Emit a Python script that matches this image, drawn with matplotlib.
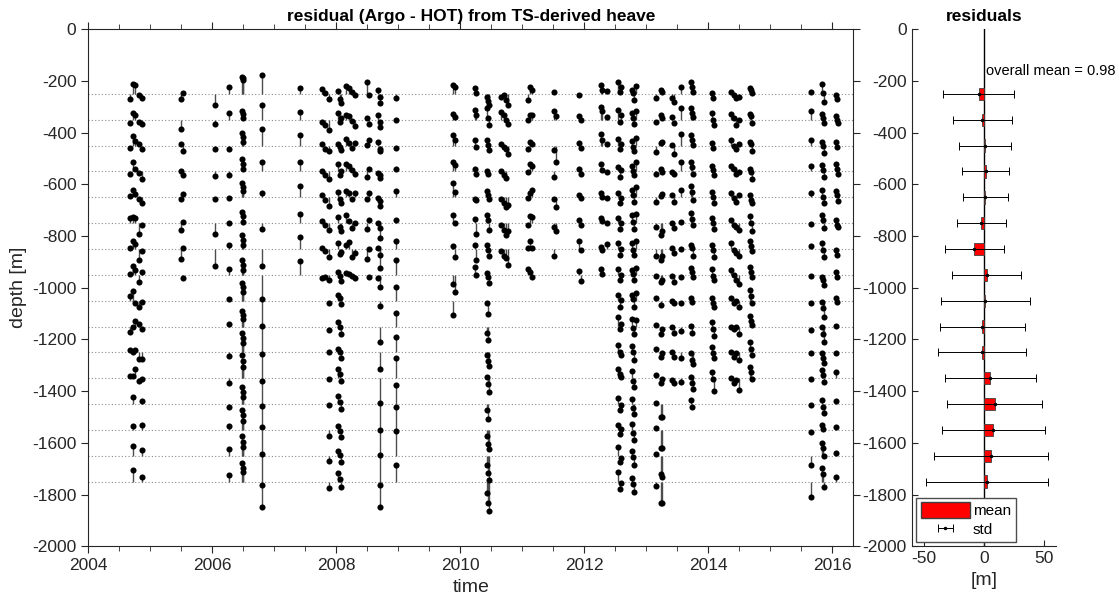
import numpy as np
import matplotlib.pyplot as plt
from matplotlib.patches import Patch
from matplotlib.ticker import MultipleLocator

plt.rcParams['font.family'] = ['Liberation Sans', 'DejaVu Sans']
plt.rcParams['axes.unicode_minus'] = False

N = np.nan

# standard depth levels [m]
levels = [-250, -350, -450, -550, -650, -750, -850, -950,
          -1050, -1150, -1250, -1350, -1450, -1550, -1650, -1750]

# profile times (decimal year) and residuals [m] per level, top down
prof_time = [
    2004.68, 2004.72, 2004.76, 2004.81, 2004.86,
    2005.49, 2005.52,
    2006.04, 2006.27, 2006.48, 2006.49, 2006.50, 2006.80,
    2007.41,
    2007.77, 2007.82, 2007.88, 2008.03, 2008.06, 2008.08, 2008.15, 2008.21, 2008.26, 2008.30,
    2008.49, 2008.53,
    2008.68, 2008.71, 2008.70,
    2008.96,
    2009.89, 2009.91,
    2010.24, 2010.26,
    2010.43, 2010.45, 2010.46,
    2010.66, 2010.70, 2010.74, 2010.77,
    2011.10, 2011.13, 2011.16,
    2011.52, 2011.54,
    2011.92, 2011.94,
    2012.27, 2012.29, 2012.36,
    2012.55, 2012.58, 2012.60,
    2012.77, 2012.79, 2012.81, 2012.83,
    2013.16, 2013.23, 2013.25,
    2013.42, 2013.45, 2013.56,
    2013.72, 2013.74, 2013.75,
    2014.06, 2014.08, 2014.09,
    2014.37, 2014.41, 2014.45, 2014.49,
    2014.67, 2014.69, 2014.70,
    2015.65,
    2015.84, 2015.85, 2015.87,
    2016.06, 2016.08, 2016.09,
]

prof_res = [
    [-19, -14, -9, -9, 5, 21, 4, 5, 18, -22, 9, 9],
    [39, 28, 37, 36, 28, 22, 32, 36, 36, 0, 3, 9, 28, 14, 37, 45],
    [33, 18, 17, 10, 13, 19, 21, 18, -8, 23, 9, 35],
    [-6, -8, 8, -6, -8, -43, -41, -28, -23, 10, -27, -9],
    [-14, -18, -12, -28, -21, -6, -6, 10, -4, -10, -27, -3, 13, 19, 24, 17],
    [-19, -34, 8, 0, -8, -26, -39],
    [5, N, -21, -15, 12, 3, 3, -14],
    [-43, -16, -12, -17, -8, -43, -66],
    [28, 25, -13, -14, -4, 0, 17, 21, 8, 9, -12, -19, -13, 14, 25, 25],
    [67, 34, 50, 49, 54, 45, 55, 57, 70, 62, 74, 89, 67, 76, 76, 74],
    [61, 21, 34, 30, 39, 26, 36, 37, 52, 46, 54, 68, 48, 57, 54, 54],
    [54, 5, 14, 10, 26, 6, 17, 18, 35, 30, 35, 45, 28, 35, 35, 39],
    [74, 59, 65, 36, 15, -23, -66, -93, -99, -105, -111, -107, -88, -94, -111, -99],
    [22, 31, 40, 36, 45, 37, 45, 53],
    [18, -8, 8, 2, 9, 10, 3, -14],
    [3, -20, -12, -15, -10, -6, -8, -10],
    [-19, -40, -22, -28, -35, -25, -30, -18, -8, -13, 3, -4, -4, -23, -19, -26],
    [10, 28, 5, 30, 20, 25, 22, 12, 22, 17, 15, 35, 30, 15, 20, 32],
    [-20, -10, -5, -12, -8, -15, -20, -5, 9, -3, 3, 17, 8, -5, 2, 12],
    [-35, 5, -18, 3, -22, -30, -10, -22, -13, -30, -23, -9, -20, -28, -25, -20],
    [32, 20, 25, 30, 25, 30, 15, 8],
    [22, 15, 10, 22, 15, 10, 28, 3],
    [8, -5, -10, 5, -5, -20, -30, -5],
    [-5, -25, 12, -8, 18, 2, -15, -12],
    [48, 5, 3, -20, -8, -23, -39],
    [-5, -15, 20, 10, 18, 13, 0, -10],
    [15, 18, 14, -5, -4, 0, 4, -14],
    [-36, -27, -12, -25, -34, -58, -73, -46, -21, -58, -65, -94, -99, -98, -111, -99],
    [-10, -8, -20, -15, -15, -20, -25],
    [-17, 0, -8, 10, 25, 13, 30, 57, 52, 54, 61, 77, 73, 89, 95, 65],
    [35, 21, 40, 36, 54, 32, 10, -34, -55],
    [25, 10, 20, 25, 22, 0, -31, -66],
    [22, 37, 21, 10, -8, 15, 17, 31],
    [5, 18, -5, -10, -12, -43, -44, -1],
    [-10, 44, 21, 0, 26, 32, 17, 8, -8, -26, -10, 6, -21, -25, -36, -45],
    [-27, 5, 4, -9, 9, 13, -3, -10, -52, -52, -34, -22, -56, -53, -68, -81],
    [-43, -20, -18, N, -8, -28, -26, -31, N, N, -53, -55, N, -72, -92, -112],
    [-10, 30, 8, 0, -8, -6, -9],
    [-6, 20, -5, -15, -23, -26, -28],
    [-23, -1, -14, -26, -36, -45, -36],
    [-43, -18, -31, N, -30, -32, -60],
    [-23, -1, -12, -3, -4, -6, 4, 24],
    [25, 18, 14, 30, 17, 28, 30, 12],
    [15, 18, 8, 22, 28, 22, 5, -10],
    [9, 34, -18, -23, -8, -15, -26],
    [N, 16, -63, N, -36, -32],
    [-6, 16, 12, 8, 9, 13, 30, 15],
    [N, -1, -9, -9, -4, -6, -5, -23],
    [35, 50, 46, 30, 15, 20, 8, 24],
    [15, 34, 21, 4, 3, 10, -3, 5],
    [12, 12, 8, -3, -4, 2, 18],
    [48, 37, 27, 17, 15, 19, 23, 21, 22, 36, 28, 35, 22, 18, 35, 39],
    [9, -8, -14, -22, -23, -23, -22, -21, -23, -9, 3, 17, -21, -14, -23, -30],
    [28, 18, 8, 4, -4, 0, 0, -1, 3, 9, -10, 5, -5, 2, -8, -5],
    [15, 25, 18, 22, 28, 30, 25, 20, 22, 28, 25, 30, 18, 25, 20, 15],
    [3, 5, -5, 3, 8, 5, -3, 2, 5, -5, 3, -10, -15, -10, -5, -8],
    [-23, -15, -20, -12, -18, -22, -25, -18, -25, -30, -28, -35, -40, -38, -35, -40],
    [30, 35, 30, 38, 40, 35, 32, 28, 30, 25],
    [-17, -8, -25, -9, -17, -15, -26, -5, 9, 8, 15, 13, 3, 9, 6, -17],
    [15, 18, 12, 8, 5, -45, -44, -27, -17, -28, -17, -19, -49, -68, -71, -81],
    [9, 5, 14, -3, 13, -32, -26, -21, N, -9, -1, -4, -49, -68, -81, -81],
    [-17, 12, 1, -3, 9, 0, 4, -5, 0, -3, 3, -6],
    [-30, -14, -31, -9, -17, -19, -15, -27, -8, -26, -17, -19],
    [28, 44, 46, 36, 28, 3, 0, -8, -10, -18, -23, -13],
    [48, 46, 40, 36, 44, 39, 17, 25, 9, 4, -1, 6, 15],
    [28, 25, 21, 17, 22, 15, 4, 12, -4, -26, -30, -19, -10],
    [9, 12, 4, -9, -10, -6, -26, -10, N, N, -43, -43],
    [3, 25, 12, 23, 22, 19, 17, 21, 9, 17, 22, 26],
    [-17, -1, -9, 4, 3, 0, -5, -5, -8, -9, -1, -4],
    [N, -21, N, -15, -23, -23, -31, -21, -23, -35, -23, -48],
    [9, 24, 21, 23, 15, 13, 23, 18, 9, -3, 3, 0],
    [-4, 5, -1, 8, -4, -6, -3, -1, -8, -9, -17, -19],
    [-17, -20, -12, -9, -17, -13, -15, -21, 0, 0, -1, -6],
    [-10, -1, 8, -3, 9, -26, -28, -34, -23, -28, -30, -45],
    [22, 21, 14, 8, 9, 26, 30, 31, 41, 39, 41, 45],
    [15, 15, 8, -3, -10, 0, 10, 12, 18, 23, 15, 26],
    [3, -14, -22, -31, -23, -32, -9, -8, -9, 8, -10, -4],
    [9, 34, 21, 21, 15, -3, 13, -5, -10, -13, -4, -4, -4, -8, -36, -58],
    [37, 21, 14, 26, 28, 32, 23, -8, -4, -3, -1, 32, 15, 18, 50, 52],
    [3, 5, -1, 4, 3, 13, -3, -21, -30, -28, -23, 13, -10, 5, 32, 30],
    [-32, -14, -27, -22, -23, -19, -31, -40, -62, -61, -40, -13, -34, N, -1, -22],
    [-4, 15, 14, 30, 26, 13, -3, 12, 9, 4, -1, 26, 13, 12, 9, 17],
    [-19, -1, -5, 10, 9, -6, -22, -8, -4],
    [N, -14, N, -9, -13, -15],
]

# per-level statistics for the right panel [m]
bin_mean = [-4.4, -1.2, 0.9, 1.5, 1.3, -2.1, -7.8, 2.4,
            1.1, -1.2, -1.7, 5.4, 9.0, 8.0, 5.7, 2.6]
bin_std = [29.7, 24.7, 21.7, 19.6, 18.8, 20.4, 24.6, 28.8,
           36.9, 35.4, 36.4, 37.9, 39.4, 42.9, 47.5, 50.8]
overall_mean = 0.98

# flatten profiles into points
t_pts, lev_pts, dep_pts = [], [], []
for t, res in zip(prof_time, prof_res):
    for lev, r in zip(levels, res):
        if np.isnan(r):
            continue
        t_pts.append(t)
        lev_pts.append(lev)
        dep_pts.append(lev + r)

axc = '0.15'
fig = plt.figure(figsize=(11.19, 6.07), dpi=100)
W, H = 1119, 607
ax = fig.add_axes([88.3 / W, 1 - 546.3 / H, 765 / W, 517 / H])
ax2 = fig.add_axes([911.7 / W, 1 - 546.3 / H, 144.3 / W, 517 / H])

for lev in levels:
    ax.axhline(lev, color='0.55', lw=0.8, ls=(0, (1, 2)), zorder=1)
ax.vlines(t_pts, lev_pts, dep_pts, color='0.3', lw=1.0, zorder=2)
ax.plot(t_pts, dep_pts, 'o', color='k', ms=4.4, mew=0, zorder=3)

ax.set_xlim(2004, 2016.34)
ax.set_ylim(-2000, 0)
ax.set_xticks(np.arange(2004, 2017, 2))
ax.xaxis.set_minor_locator(MultipleLocator(0.5))
ax.set_yticks(np.arange(-2000, 1, 200))
ax.tick_params(which='both', direction='out', top=True, right=True,
               colors=axc, labelsize=12.5)
ax.tick_params(which='major', length=5)
ax.tick_params(which='minor', length=3.5)
for s in ax.spines.values():
    s.set_color(axc)
    s.set_linewidth(0.8)
ax.set_title('residual (Argo - HOT) from TS-derived heave', fontsize=12.5,
             fontweight='bold', pad=6)
ax.set_xlabel('time', fontsize=14, color=axc)
ax.set_ylabel('depth [m]', fontsize=14, color=axc)

# right panel
ax2.axvline(0, color='k', lw=1, zorder=1)
ax2.barh(levels, bin_mean, height=48, color='red', edgecolor='0.25', lw=0.6,
         zorder=2, label='mean')
eb = ax2.errorbar(bin_mean, levels, xerr=bin_std, fmt='.', color='k', ms=3,
                  elinewidth=0.7, capsize=3, capthick=0.7, zorder=3, label='std')
ax2.text(2, -160, 'overall mean = %.2f' % overall_mean, fontsize=10.5,
         va='center', ha='left')
ax2.set_xlim(-60, 60)
ax2.set_ylim(-2000, 0)
ax2.set_xticks([-50, 0, 50])
ax2.set_yticks(np.arange(-2000, 1, 200))
ax2.tick_params(direction='in', colors=axc, labelsize=12.5, length=4)
ax2.spines['top'].set_visible(False)
ax2.spines['right'].set_visible(False)
for s in ['left', 'bottom']:
    ax2.spines[s].set_color(axc)
    ax2.spines[s].set_linewidth(0.8)
ax2.set_title('residuals', fontsize=12.5, fontweight='bold', pad=6)
ax2.set_xlabel('[m]', fontsize=14, color=axc)
ax2.legend([Patch(facecolor='red', edgecolor='0.25'), eb], ['mean', 'std'],
           loc='lower left', fontsize=11, handlelength=3.2, handleheight=1.2,
           borderaxespad=0.3, fancybox=False, edgecolor='0.3', framealpha=1,
           borderpad=0.3, labelspacing=0.2, handletextpad=0.2)

fig.savefig('out.png', dpi=100)
